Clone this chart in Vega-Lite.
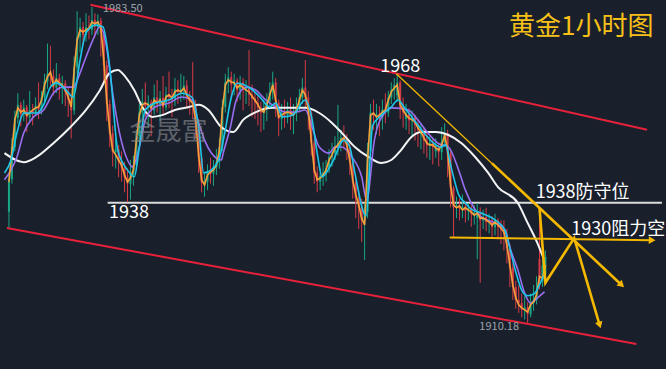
{
"$schema":"https://vega.github.io/schema/vega-lite/v6.json",
"width":666,"height":369,"padding":0,
"autosize":{"type":"fit","contains":"padding"},
"background":"#19202c",
"config":{"view":{"stroke":null}},
"datasets":{
"candles":[
{"k":0,"o":1936,"h":1944.6,"l":1932.3,"c":1943.5,"m":1942.9},
{"k":1,"o":1943.5,"h":1953,"l":1942.5,"c":1951,"m":1950.3},
{"k":2,"o":1951,"h":1959.5,"l":1950,"c":1957.8,"m":1957.3},
{"k":3,"o":1957.8,"h":1963.5,"l":1956.5,"c":1960.8,"m":1960.1},
{"k":4,"o":1960.8,"h":1961.5,"l":1955.8,"c":1958.6,"m":1959.1},
{"k":5,"o":1958.6,"h":1962,"l":1957,"c":1960.2,"m":1959.6},
{"k":6,"o":1960.2,"h":1960.8,"l":1954.5,"c":1957.9,"m":1958.4},
{"k":7,"o":1957.9,"h":1964,"l":1957,"c":1959.5,"m":1958.9},
{"k":8,"o":1959.5,"h":1961,"l":1956,"c":1959,"m":1959.6},
{"k":9,"o":1959,"h":1962.5,"l":1958.2,"c":1960.6,"m":1960.1},
{"k":10,"o":1960.6,"h":1966,"l":1957.5,"c":1959.8,"m":1960.3},
{"k":11,"o":1959.8,"h":1964,"l":1958.5,"c":1962.5,"m":1961.9},
{"k":12,"o":1962.5,"h":1968,"l":1961.5,"c":1966.2,"m":1965.4},
{"k":13,"o":1966.2,"h":1975,"l":1964.5,"c":1968,"m":1967.3},
{"k":14,"o":1968,"h":1974.5,"l":1965,"c":1967.5,"m":1968.4},
{"k":15,"o":1967.5,"h":1969,"l":1963,"c":1964.8,"m":1965.4},
{"k":16,"o":1964.8,"h":1970.5,"l":1963.5,"c":1967,"m":1966.6},
{"k":17,"o":1967,"h":1968,"l":1962,"c":1965.5,"m":1965.9},
{"k":18,"o":1965.5,"h":1967.5,"l":1961,"c":1965.8,"m":1965.4},
{"k":19,"o":1965.8,"h":1966.5,"l":1960.5,"c":1963.8,"m":1964.2},
{"k":20,"o":1963.8,"h":1965,"l":1958,"c":1962,"m":1962.6},
{"k":21,"o":1962,"h":1963,"l":1953,"c":1959.5,"m":1960.3},
{"k":22,"o":1959.5,"h":1972,"l":1958.5,"c":1969.5,"m":1968.9},
{"k":23,"o":1969.5,"h":1982.5,"l":1968,"c":1976.5,"m":1975.8},
{"k":24,"o":1976.5,"h":1981,"l":1973,"c":1978.8,"m":1978.2},
{"k":25,"o":1978.8,"h":1980,"l":1974.5,"c":1977,"m":1977.7},
{"k":26,"o":1977,"h":1982,"l":1975.5,"c":1978.8,"m":1978.2},
{"k":27,"o":1978.8,"h":1981.5,"l":1976,"c":1978.2,"m":1978.6},
{"k":28,"o":1978.2,"h":1983.5,"l":1977,"c":1980.5,"m":1980.0},
{"k":29,"o":1980.5,"h":1982,"l":1976.5,"c":1979,"m":1979.6},
{"k":30,"o":1979,"h":1981.8,"l":1977,"c":1980.3,"m":1980.0},
{"k":31,"o":1980.3,"h":1981,"l":1972,"c":1977.5,"m":1978.6},
{"k":32,"o":1977.5,"h":1978,"l":1966,"c":1970,"m":1971.2},
{"k":33,"o":1970,"h":1971,"l":1957,"c":1961,"m":1961.9},
{"k":34,"o":1961,"h":1962,"l":1951,"c":1954.2,"m":1955.0},
{"k":35,"o":1954.2,"h":1956,"l":1946.5,"c":1949.8,"m":1950.3},
{"k":36,"o":1949.8,"h":1953,"l":1946,"c":1950.5,"m":1949.2},
{"k":37,"o":1950.5,"h":1951.5,"l":1944,"c":1947.5,"m":1948.0},
{"k":38,"o":1947.5,"h":1950,"l":1943,"c":1946.2,"m":1946.8},
{"k":39,"o":1946.2,"h":1947.5,"l":1940.5,"c":1944,"m":1944.5},
{"k":40,"o":1944,"h":1946,"l":1938.2,"c":1942.5,"m":1942.9},
{"k":41,"o":1942.5,"h":1948,"l":1938.8,"c":1944.5,"m":1943.8},
{"k":42,"o":1944.5,"h":1949,"l":1942,"c":1946.8,"m":1945.7},
{"k":43,"o":1946.8,"h":1955,"l":1945.5,"c":1953.5,"m":1952.6},
{"k":44,"o":1953.5,"h":1961,"l":1952,"c":1959,"m":1958.4},
{"k":45,"o":1959,"h":1964.5,"l":1957.5,"c":1961.5,"m":1960.8},
{"k":46,"o":1961.5,"h":1966,"l":1958,"c":1960.5,"m":1961.2},
{"k":47,"o":1960.5,"h":1963,"l":1955.5,"c":1961.3,"m":1960.8},
{"k":48,"o":1961.3,"h":1962,"l":1953.5,"c":1959.5,"m":1960.1},
{"k":49,"o":1959.5,"h":1965.5,"l":1958.5,"c":1962.5,"m":1961.9},
{"k":50,"o":1962.5,"h":1966.5,"l":1959,"c":1960.8,"m":1961.2},
{"k":51,"o":1960.8,"h":1964,"l":1957,"c":1962.4,"m":1961.9},
{"k":52,"o":1962.4,"h":1967.5,"l":1958.5,"c":1960.2,"m":1960.8},
{"k":53,"o":1960.2,"h":1965,"l":1959.5,"c":1963.2,"m":1962.6},
{"k":54,"o":1963.2,"h":1968.5,"l":1960,"c":1962.6,"m":1963.1},
{"k":55,"o":1962.6,"h":1964.5,"l":1958,"c":1962,"m":1962.4},
{"k":56,"o":1962,"h":1967,"l":1960.5,"c":1964.5,"m":1963.8},
{"k":57,"o":1964.5,"h":1966.5,"l":1961,"c":1963.8,"m":1964.2},
{"k":58,"o":1963.8,"h":1968,"l":1961.5,"c":1964.4,"m":1963.8},
{"k":59,"o":1964.4,"h":1967.5,"l":1962,"c":1965.3,"m":1964.7},
{"k":60,"o":1965.3,"h":1966.5,"l":1960,"c":1962.5,"m":1963.1},
{"k":61,"o":1962.5,"h":1964,"l":1958.5,"c":1961.5,"m":1961.9},
{"k":62,"o":1961.5,"h":1970.7,"l":1957.5,"c":1960.8,"m":1961.2},
{"k":63,"o":1960.8,"h":1962,"l":1953,"c":1956.5,"m":1957.3},
{"k":64,"o":1956.5,"h":1957.5,"l":1945,"c":1948.5,"m":1949.2},
{"k":65,"o":1948.5,"h":1949.5,"l":1940.5,"c":1942.8,"m":1943.4},
{"k":66,"o":1942.8,"h":1945,"l":1939.5,"c":1943,"m":1942.2},
{"k":67,"o":1943,"h":1947,"l":1941,"c":1945.2,"m":1944.5},
{"k":68,"o":1945.2,"h":1948.5,"l":1942.5,"c":1944.8,"m":1945.2},
{"k":69,"o":1944.8,"h":1948,"l":1942,"c":1946.3,"m":1945.7},
{"k":70,"o":1946.3,"h":1950.5,"l":1944.5,"c":1947.5,"m":1946.8},
{"k":71,"o":1947.5,"h":1953,"l":1946,"c":1951,"m":1950.3},
{"k":72,"o":1951,"h":1962,"l":1950,"c":1960.3,"m":1959.6},
{"k":73,"o":1960.3,"h":1968,"l":1959,"c":1966,"m":1965.4},
{"k":74,"o":1966,"h":1969.5,"l":1963.5,"c":1967.2,"m":1966.6},
{"k":75,"o":1967.2,"h":1968.5,"l":1962.5,"c":1965.5,"m":1966.1},
{"k":76,"o":1965.5,"h":1968,"l":1963,"c":1966.4,"m":1965.9},
{"k":77,"o":1966.4,"h":1967,"l":1961.5,"c":1964.2,"m":1964.7},
{"k":78,"o":1964.2,"h":1967.5,"l":1962,"c":1966,"m":1965.4},
{"k":79,"o":1966,"h":1967,"l":1959.5,"c":1964.3,"m":1964.7},
{"k":80,"o":1964.3,"h":1966.5,"l":1961,"c":1964.8,"m":1964.2},
{"k":81,"o":1964.8,"h":1973.5,"l":1960.5,"c":1963.2,"m":1963.8},
{"k":82,"o":1963.2,"h":1965.5,"l":1958,"c":1962.2,"m":1962.8},
{"k":83,"o":1962.2,"h":1964,"l":1957.5,"c":1961.3,"m":1961.9},
{"k":84,"o":1961.3,"h":1963,"l":1956,"c":1960.2,"m":1960.8},
{"k":85,"o":1960.2,"h":1961.5,"l":1954.5,"c":1959,"m":1959.6},
{"k":86,"o":1959,"h":1962,"l":1955,"c":1959.8,"m":1959.1},
{"k":87,"o":1959.8,"h":1963.5,"l":1957,"c":1961.5,"m":1960.8},
{"k":88,"o":1961.5,"h":1966,"l":1960,"c":1963.8,"m":1963.1},
{"k":89,"o":1963.8,"h":1968.5,"l":1962,"c":1966,"m":1965.4},
{"k":90,"o":1966,"h":1967,"l":1958,"c":1961.3,"m":1961.9},
{"k":91,"o":1961.3,"h":1962,"l":1953.5,"c":1957.5,"m":1958.0},
{"k":92,"o":1957.5,"h":1961,"l":1955,"c":1958.8,"m":1958.4},
{"k":93,"o":1958.8,"h":1962,"l":1955.5,"c":1958.3,"m":1958.9},
{"k":94,"o":1958.3,"h":1961.5,"l":1956.5,"c":1959.6,"m":1959.1},
{"k":95,"o":1959.6,"h":1962.5,"l":1955,"c":1958.5,"m":1958.9},
{"k":96,"o":1958.5,"h":1961,"l":1954,"c":1958.9,"m":1958.4},
{"k":97,"o":1958.9,"h":1962.5,"l":1957,"c":1960.2,"m":1959.6},
{"k":98,"o":1960.2,"h":1964.5,"l":1959,"c":1962.5,"m":1961.9},
{"k":99,"o":1962.5,"h":1967,"l":1961,"c":1964.8,"m":1964.2},
{"k":100,"o":1964.8,"h":1971.2,"l":1960,"c":1962.5,"m":1963.1},
{"k":101,"o":1962.5,"h":1964,"l":1955,"c":1959,"m":1959.6},
{"k":102,"o":1959,"h":1960,"l":1949,"c":1952,"m":1952.6},
{"k":103,"o":1952,"h":1953,"l":1942.5,"c":1945,"m":1945.7},
{"k":104,"o":1945,"h":1946.5,"l":1940.5,"c":1943,"m":1943.4},
{"k":105,"o":1943,"h":1946,"l":1941,"c":1944.3,"m":1943.8},
{"k":106,"o":1944.3,"h":1947.5,"l":1942,"c":1945,"m":1944.5},
{"k":107,"o":1945,"h":1948,"l":1943,"c":1946.2,"m":1945.7},
{"k":108,"o":1946.2,"h":1950.5,"l":1945,"c":1948.6,"m":1948.0},
{"k":109,"o":1948.6,"h":1952,"l":1946.5,"c":1949.7,"m":1949.2},
{"k":110,"o":1949.7,"h":1953.5,"l":1948,"c":1951.3,"m":1950.8},
{"k":111,"o":1951.3,"h":1960.8,"l":1949,"c":1952,"m":1951.5},
{"k":112,"o":1952,"h":1955,"l":1950,"c":1953.2,"m":1952.6},
{"k":113,"o":1953.2,"h":1956,"l":1950.5,"c":1952.6,"m":1953.1},
{"k":114,"o":1952.6,"h":1954,"l":1948,"c":1951,"m":1951.5},
{"k":115,"o":1951,"h":1952,"l":1944.5,"c":1947.5,"m":1948.0},
{"k":116,"o":1947.5,"h":1948.5,"l":1939,"c":1942.8,"m":1943.4},
{"k":117,"o":1942.8,"h":1944,"l":1934.5,"c":1939.3,"m":1939.9},
{"k":118,"o":1939.3,"h":1941,"l":1932,"c":1937,"m":1937.6},
{"k":119,"o":1937,"h":1939,"l":1929,"c":1934,"m":1934.5},
{"k":120,"o":1934,"h":1938,"l":1924.8,"c":1936,"m":1932.9},
{"k":121,"o":1936,"h":1952,"l":1934.5,"c":1950,"m":1948.0},
{"k":122,"o":1950,"h":1961,"l":1948.5,"c":1959,"m":1958.4},
{"k":123,"o":1959,"h":1962,"l":1955,"c":1958.3,"m":1958.9},
{"k":124,"o":1958.3,"h":1961,"l":1954,"c":1958.6,"m":1958.0},
{"k":125,"o":1958.6,"h":1960.5,"l":1953.5,"c":1957.8,"m":1958.4},
{"k":126,"o":1957.8,"h":1962,"l":1955,"c":1959.7,"m":1959.1},
{"k":127,"o":1959.7,"h":1963.5,"l":1956.5,"c":1959,"m":1959.6},
{"k":128,"o":1959,"h":1964,"l":1958,"c":1962.5,"m":1961.9},
{"k":129,"o":1962.5,"h":1966,"l":1961,"c":1964.3,"m":1963.8},
{"k":130,"o":1964.3,"h":1967,"l":1962,"c":1965.4,"m":1964.7},
{"k":131,"o":1963,"h":1968,"l":1961.5,"c":1966,"m":1965.4},
{"k":132,"o":1966,"h":1966.5,"l":1957.5,"c":1960.2,"m":1960.8},
{"k":133,"o":1960.2,"h":1962.5,"l":1955.5,"c":1959,"m":1959.6},
{"k":134,"o":1957.5,"h":1961,"l":1955,"c":1958.8,"m":1958.4},
{"k":135,"o":1958.8,"h":1960,"l":1954,"c":1957.2,"m":1957.7},
{"k":136,"o":1957.2,"h":1959.5,"l":1953.5,"c":1957.9,"m":1957.3},
{"k":137,"o":1957.9,"h":1958.5,"l":1952.5,"c":1956.2,"m":1956.8},
{"k":138,"o":1956.2,"h":1957.5,"l":1951,"c":1955,"m":1955.4},
{"k":139,"o":1954,"h":1956.5,"l":1950.5,"c":1954.9,"m":1954.5},
{"k":140,"o":1954.9,"h":1955.5,"l":1949.5,"c":1952.5,"m":1953.1},
{"k":141,"o":1952.5,"h":1954.5,"l":1948.5,"c":1951.3,"m":1951.9},
{"k":142,"o":1951.3,"h":1953.5,"l":1948,"c":1952,"m":1951.5},
{"k":143,"o":1952,"h":1953,"l":1947,"c":1951,"m":1951.5},
{"k":144,"o":1950,"h":1953,"l":1948.5,"c":1951.2,"m":1950.8},
{"k":145,"o":1951.2,"h":1952,"l":1946.5,"c":1949.8,"m":1950.3},
{"k":146,"o":1949.8,"h":1955.6,"l":1948,"c":1952.2,"m":1951.5},
{"k":147,"o":1952.2,"h":1956.5,"l":1951,"c":1954.2,"m":1953.8},
{"k":148,"o":1954.2,"h":1955,"l":1944,"c":1949.5,"m":1950.3},
{"k":149,"o":1949.5,"h":1950,"l":1937,"c":1941.5,"m":1942.2},
{"k":150,"o":1941.5,"h":1942,"l":1930,"c":1937,"m":1937.6},
{"k":151,"o":1937,"h":1939.5,"l":1934.5,"c":1937.4,"m":1936.9},
{"k":152,"o":1937.4,"h":1939,"l":1934,"c":1936.8,"m":1937.3},
{"k":153,"o":1936.8,"h":1940,"l":1934.5,"c":1937.2,"m":1936.4},
{"k":154,"o":1937.2,"h":1938.5,"l":1933.5,"c":1936.2,"m":1936.9},
{"k":155,"o":1936.2,"h":1938,"l":1934,"c":1936.8,"m":1936.4},
{"k":156,"o":1936.8,"h":1937.5,"l":1932.5,"c":1935.4,"m":1935.9},
{"k":157,"o":1935.4,"h":1937.5,"l":1933,"c":1935.8,"m":1935.2},
{"k":158,"o":1934.5,"h":1938,"l":1925,"c":1936,"m":1935.7},
{"k":159,"o":1936,"h":1937,"l":1919.5,"c":1934,"m":1934.5},
{"k":160,"o":1934,"h":1936.5,"l":1932,"c":1934.8,"m":1934.5},
{"k":161,"o":1934.8,"h":1936.9,"l":1931.5,"c":1933.6,"m":1934.1},
{"k":162,"o":1933.6,"h":1935.5,"l":1931,"c":1934.1,"m":1933.6},
{"k":163,"o":1934.1,"h":1935,"l":1930,"c":1932.4,"m":1932.9},
{"k":164,"o":1932.4,"h":1935.5,"l":1930.5,"c":1934,"m":1933.6},
{"k":165,"o":1934,"h":1934.5,"l":1929.5,"c":1932.5,"m":1932.9},
{"k":166,"o":1932.5,"h":1934,"l":1928.5,"c":1931.8,"m":1932.2},
{"k":167,"o":1931.8,"h":1934,"l":1927,"c":1930.8,"m":1931.3},
{"k":168,"o":1930.8,"h":1932,"l":1924,"c":1927.5,"m":1928.3},
{"k":169,"o":1927.5,"h":1928.5,"l":1918.5,"c":1923,"m":1923.6},
{"k":170,"o":1923,"h":1924,"l":1915.5,"c":1918.5,"m":1919.0},
{"k":171,"o":1918.5,"h":1920,"l":1913.5,"c":1915.5,"m":1916.0},
{"k":172,"o":1915.5,"h":1919,"l":1912.5,"c":1914.8,"m":1914.4},
{"k":173,"o":1914.8,"h":1917,"l":1911.5,"c":1913.3,"m":1913.7},
{"k":174,"o":1913.3,"h":1916.5,"l":1911,"c":1913.8,"m":1913.2},
{"k":175,"o":1913.8,"h":1915,"l":1910.18,"c":1912.2,"m":1912.7},
{"k":176,"o":1912.2,"h":1917,"l":1911.5,"c":1914.8,"m":1914.4},
{"k":177,"o":1914.8,"h":1919,"l":1913,"c":1915.5,"m":1915.1},
{"k":178,"o":1915.5,"h":1921,"l":1914.5,"c":1917.5,"m":1916.7},
{"k":179,"o":1925,"h":1936.9,"l":1918,"c":1919.8,"m":1921.0},
{"k":180,"o":1919.8,"h":1925.5,"l":1918.5,"c":1923.5,"m":1920.5},
{"k":181,"o":1921.5,"h":1927,"l":1920.5,"c":1925.5,"m":1923.6}
],
"cy":[
{"k":-1.5,"v":1945.0},{"k":0.7,"v":1948.0},{"k":2.7,"v":1954.3},{"k":5,"v":1958.9},{"k":9.3,"v":1958.9},{"k":11.7,"v":1960.8},{"k":14,"v":1964.9},{"k":16,"v":1965.9},{"k":19.3,"v":1964.2},{"k":21.7,"v":1962.6},{"k":24,"v":1971.2},{"k":26,"v":1977.5},{"k":29.3,"v":1979.3},{"k":31.7,"v":1978.9},{"k":34,"v":1969.6},{"k":36.7,"v":1950.3},{"k":40,"v":1945.7},{"k":42.3,"v":1944.1},{"k":44,"v":1951.0},{"k":46,"v":1959.6},{"k":49.3,"v":1961.2},{"k":54,"v":1961.9},{"k":58.3,"v":1963.5},{"k":61.7,"v":1962.6},{"k":64,"v":1955.6},{"k":65.7,"v":1945.0},{"k":68.3,"v":1945.7},{"k":71,"v":1948.5},{"k":73,"v":1955.0},{"k":75,"v":1962.5},{"k":77,"v":1965.8},{"k":81.3,"v":1964.7},{"k":84.7,"v":1962.6},{"k":88,"v":1960.3},{"k":90,"v":1961.2},{"k":92.3,"v":1958.0},{"k":95.7,"v":1958.4},{"k":100,"v":1961.9},{"k":102.3,"v":1957.3},{"k":104,"v":1949.6},{"k":105.7,"v":1944.1},{"k":109,"v":1947.3},{"k":113,"v":1952.6},{"k":115,"v":1951.0},{"k":116.7,"v":1945.0},{"k":120.5,"v":1935.0},{"k":122.7,"v":1956.0},{"k":125.7,"v":1958.4},{"k":129,"v":1960.3},{"k":131.3,"v":1961.9},{"k":133.3,"v":1960.3},{"k":136.7,"v":1957.3},{"k":140,"v":1954.3},{"k":143.3,"v":1951.9},{"k":145.7,"v":1951.0},{"k":147.3,"v":1951.5},{"k":149.3,"v":1946.0},{"k":151.7,"v":1940.0},{"k":154,"v":1938.0},{"k":156,"v":1936.6},{"k":159.3,"v":1935.7},{"k":164,"v":1934.1},{"k":167.3,"v":1931.8},{"k":169,"v":1927.5},{"k":171,"v":1922.0},{"k":173.3,"v":1917.4},{"k":175,"v":1916.5},{"k":177.3,"v":1917.0},{"k":179.3,"v":1919.5},{"k":180.7,"v":1921.5}
],
"pu":[
{"k":-1.5,"v":1943.4},{"k":0.7,"v":1945.7},{"k":2.7,"v":1948.7},{"k":5,"v":1954.3},{"k":8.3,"v":1958.0},{"k":11.7,"v":1959.6},{"k":15,"v":1963.5},{"k":18.3,"v":1964.9},{"k":21.7,"v":1964.9},{"k":24,"v":1968.2},{"k":26,"v":1971.9},{"k":28.3,"v":1975.8},{"k":30.7,"v":1978.9},{"k":32.7,"v":1975.1},{"k":35,"v":1963.5},{"k":37.3,"v":1954.3},{"k":40,"v":1948.0},{"k":41.7,"v":1946.4},{"k":44,"v":1951.0},{"k":46,"v":1957.3},{"k":49.3,"v":1960.3},{"k":54,"v":1961.2},{"k":58.3,"v":1962.6},{"k":61.7,"v":1961.9},{"k":64,"v":1956.6},{"k":66,"v":1952.6},{"k":68.3,"v":1949.6},{"k":71.7,"v":1948.0},{"k":72.3,"v":1949.6},{"k":74.7,"v":1955.6},{"k":76.7,"v":1961.9},{"k":80,"v":1964.9},{"k":83.3,"v":1964.2},{"k":86.7,"v":1961.9},{"k":90,"v":1960.3},{"k":93.3,"v":1959.1},{"k":96.7,"v":1959.1},{"k":100,"v":1959.6},{"k":102.3,"v":1955.6},{"k":104.7,"v":1951.0},{"k":108,"v":1949.6},{"k":110,"v":1951.0},{"k":112.3,"v":1951.0},{"k":115.7,"v":1948.7},{"k":119,"v":1944.1},{"k":120.7,"v":1938.7},{"k":123.3,"v":1952.6},{"k":126.7,"v":1958.9},{"k":129.3,"v":1960.1},{"k":134.7,"v":1959.6},{"k":138,"v":1957.3},{"k":141.3,"v":1954.3},{"k":144.7,"v":1951.9},{"k":148.3,"v":1951.0},{"k":151.7,"v":1945.7},{"k":154,"v":1941.0},{"k":156,"v":1938.0},{"k":159.3,"v":1934.8},{"k":164,"v":1933.4},{"k":167.3,"v":1931.8},{"k":169.3,"v":1927.1},{"k":171.7,"v":1922.5},{"k":174,"v":1917.1},{"k":176,"v":1914.8},{"k":178.3,"v":1916.0},{"k":180.7,"v":1917.4}
],
"wh":[
{"k":-1.5,"v":1949.6},{"k":5,"v":1947.5},{"k":9.3,"v":1948.7},{"k":15,"v":1951.9},{"k":20.7,"v":1955.6},{"k":26,"v":1959.6},{"k":30.7,"v":1964.2},{"k":34,"v":1968.2},{"k":36.7,"v":1968.9},{"k":39.3,"v":1967.3},{"k":42.3,"v":1964.2},{"k":45,"v":1960.3},{"k":48.3,"v":1958.0},{"k":51.7,"v":1958.4},{"k":56,"v":1959.6},{"k":60.7,"v":1960.3},{"k":64,"v":1960.8},{"k":67.3,"v":1959.6},{"k":71.7,"v":1955.6},{"k":75.7,"v":1954.5},{"k":79,"v":1957.3},{"k":83.3,"v":1959.1},{"k":89,"v":1960.1},{"k":94.7,"v":1960.1},{"k":100,"v":1960.1},{"k":104.7,"v":1958.9},{"k":109,"v":1956.6},{"k":112.3,"v":1954.3},{"k":116.7,"v":1951.0},{"k":121.3,"v":1948.7},{"k":125.7,"v":1947.3},{"k":129,"v":1948.0},{"k":132.3,"v":1950.3},{"k":135.7,"v":1953.3},{"k":139.3,"v":1954.5},{"k":144,"v":1954.5},{"k":148.3,"v":1953.8},{"k":152.7,"v":1951.9},{"k":157.3,"v":1948.7},{"k":161.7,"v":1945.0},{"k":165,"v":1941.7},{"k":171.7,"v":1938.0},{"k":175,"v":1933.4},{"k":178.3,"v":1928.7},{"k":180.3,"v":1925.3}
]
},
"encoding":{"x":{"field":"k","type":"quantitative","scale":{"domain":[-1.6667,220.3333],"nice":false,"zero":false},"axis":null}},
"layer":[
{"data":{"values":[{"k":27.5,"p":1984.0},{"k":215.3,"p":1955.0}]},"mark":{"type":"line","color":"#e8213a","strokeWidth":2},"encoding":{"y":{"field":"p","type":"quantitative","scale":{"domain":[1899.5,1985.12],"nice":false,"zero":false},"axis":null}}},
{"data":{"values":[{"k":-0.7,"p":1932.2},{"k":211.7,"p":1905.3}]},"mark":{"type":"line","color":"#e8213a","strokeWidth":2},"encoding":{"y":{"field":"p","type":"quantitative","scale":{"domain":[1899.5,1985.12],"nice":false,"zero":false},"axis":null}}},
{"data":{"values":[{"k":33.3,"p":1938.1},{"k":220.3,"p":1938.1}]},"mark":{"type":"line","color":"#dcdcdc","strokeWidth":2},"encoding":{"y":{"field":"p","type":"quantitative","scale":{"domain":[1899.5,1985.12],"nice":false,"zero":false},"axis":null}}},
{"data":{"name":"candles"},"mark":{"type":"rule","strokeWidth":1},"encoding":{"y":{"field":"l","type":"quantitative","scale":{"domain":[1899.5,1985.12],"nice":false,"zero":false},"axis":null},"y2":{"field":"h"},"color":{"condition":{"test":"datum.c >= datum.o","value":"#1aa784"},"value":"#d43b47"}}},
{"data":{"name":"candles"},"mark":{"type":"rule","strokeWidth":2},"encoding":{"y":{"field":"o","type":"quantitative","scale":{"domain":[1899.5,1985.12],"nice":false,"zero":false},"axis":null},"y2":{"field":"c"},"color":{"condition":{"test":"datum.c >= datum.o","value":"#1aa784"},"value":"#d43b47"}}},
{"data":{"name":"wh"},"mark":{"type":"line","color":"#f4f4f4","strokeWidth":2,"interpolate":"monotone"},"encoding":{"y":{"field":"v","type":"quantitative","scale":{"domain":[1899.5,1985.12],"nice":false,"zero":false},"axis":null}}},
{"data":{"name":"pu"},"mark":{"type":"line","color":"#9a6ff0","strokeWidth":1.6,"interpolate":"monotone"},"encoding":{"y":{"field":"v","type":"quantitative","scale":{"domain":[1899.5,1985.12],"nice":false,"zero":false},"axis":null}}},
{"data":{"name":"candles"},"mark":{"type":"line","color":"#f7a23b","strokeWidth":1.6},"encoding":{"y":{"field":"m","type":"quantitative","scale":{"domain":[1899.5,1985.12],"nice":false,"zero":false},"axis":null}}},
{"data":{"name":"cy"},"mark":{"type":"line","color":"#1fc6ea","strokeWidth":1.6,"interpolate":"monotone"},"encoding":{"y":{"field":"v","type":"quantitative","scale":{"domain":[1899.5,1985.12],"nice":false,"zero":false},"axis":null}}},
{"data":{"values":[{"k":130.7,"p":1968.0},{"k":206.7,"p":1919.0}]},"mark":{"type":"line","color":"#f5b800","strokeWidth":1.3},"encoding":{"y":{"field":"p","type":"quantitative","scale":{"domain":[1899.5,1985.12],"nice":false,"zero":false},"axis":null}}},
{"data":{"values":[{"k":163,"p":1947.2},{"k":206.7,"p":1919.0}]},"mark":{"type":"line","color":"#f5b800","strokeWidth":2.6},"encoding":{"y":{"field":"p","type":"quantitative","scale":{"domain":[1899.5,1985.12],"nice":false,"zero":false},"axis":null}}},
{"data":{"values":[{"k":148.7,"p":1930.0},{"k":217,"p":1929.4}]},"mark":{"type":"line","color":"#f5b800","strokeWidth":2},"encoding":{"y":{"field":"p","type":"quantitative","scale":{"domain":[1899.5,1985.12],"nice":false,"zero":false},"axis":null}}},
{"data":{"values":[{"k":179,"p":1936.9},{"k":181,"p":1919.5},{"k":190.7,"p":1929.9},{"k":199.3,"p":1909.7}]},"mark":{"type":"line","color":"#f5b800","strokeWidth":2.6},"encoding":{"y":{"field":"p","type":"quantitative","scale":{"domain":[1899.5,1985.12],"nice":false,"zero":false},"axis":null}}},
{"data":{"values":[{"k":206.7,"p":1919.0,"a":133},{"k":199.3,"p":1909.7,"a":163},{"k":217,"p":1929.4,"a":91}]},"mark":{"type":"point","shape":"triangle-up","filled":true,"size":60,"color":"#f5b800","opacity":1},"encoding":{"y":{"field":"p","type":"quantitative","scale":{"domain":[1899.5,1985.12],"nice":false,"zero":false},"axis":null},"angle":{"field":"a","type":"quantitative","scale":null}}},
{"data":{"values":[{"k":40.7,"p":1952.6,"t":"金晟富"}]},"mark":{"type":"text","align":"left","baseline":"alphabetic","font":"Noto Sans CJK SC","fontSize":26,"color":"#8a8d92","opacity":0.6},"encoding":{"y":{"field":"p","type":"quantitative","scale":{"domain":[1899.5,1985.12],"nice":false,"zero":false},"axis":null},"text":{"field":"t"}}},
{"data":{"values":[{"k":168.7,"p":1977.0,"t":"黄金1小时图"}]},"mark":{"type":"text","align":"left","baseline":"alphabetic","font":"Noto Sans CJK SC","fontSize":26,"color":"#f6c018"},"encoding":{"y":{"field":"p","type":"quantitative","scale":{"domain":[1899.5,1985.12],"nice":false,"zero":false},"axis":null},"text":{"field":"t"}}},
{"data":{"values":[{"k":132,"p":1968.4,"t":"1968"},{"k":40.5,"p":1934.5,"t":"1938"}]},"mark":{"type":"text","align":"center","baseline":"alphabetic","font":"Noto Sans CJK SC","fontSize":18,"color":"#ffffff"},"encoding":{"y":{"field":"p","type":"quantitative","scale":{"domain":[1899.5,1985.12],"nice":false,"zero":false},"axis":null},"text":{"field":"t"}}},
{"data":{"values":[{"k":177.7,"p":1939.2,"t":"1938防守位"},{"k":189.7,"p":1930.6,"t":"1930阻力空"}]},"mark":{"type":"text","align":"left","baseline":"alphabetic","font":"Noto Sans CJK SC","fontSize":18,"color":"#ffffff"},"encoding":{"y":{"field":"p","type":"quantitative","scale":{"domain":[1899.5,1985.12],"nice":false,"zero":false},"axis":null},"text":{"field":"t"}}},
{"data":{"values":[{"k":31.7,"p":1982.3,"t":"1983.50"},{"k":158.7,"p":1908.6,"t":"1910.18"}]},"mark":{"type":"text","align":"left","baseline":"alphabetic","font":"Noto Sans CJK SC","fontSize":11,"color":"#9ea3aa"},"encoding":{"y":{"field":"p","type":"quantitative","scale":{"domain":[1899.5,1985.12],"nice":false,"zero":false},"axis":null},"text":{"field":"t"}}}
]
}
